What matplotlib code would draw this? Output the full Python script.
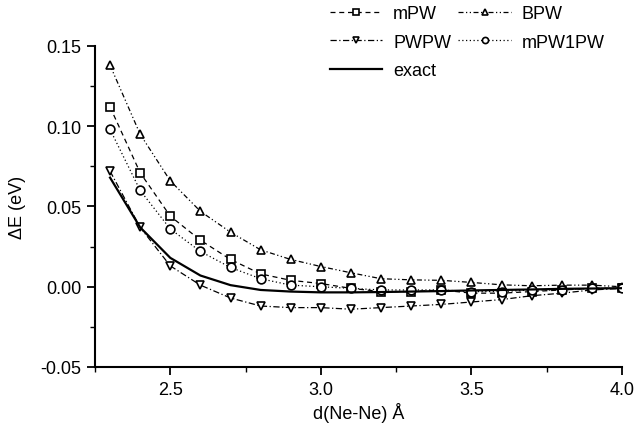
import matplotlib
matplotlib.use("Agg")
import matplotlib.pyplot as plt
from matplotlib.ticker import MultipleLocator, FormatStrFormatter

plt.rcParams['font.family'] = ['Liberation Sans', 'DejaVu Sans']
plt.rcParams['axes.unicode_minus'] = False

d = [2.3, 2.4, 2.5, 2.6, 2.7, 2.8, 2.9, 3.0, 3.1, 3.2, 3.3, 3.4, 3.5, 3.6, 3.7, 3.8, 3.9, 4.0]
mpw = [0.112, 0.071, 0.044, 0.029, 0.017, 0.008, 0.004, 0.002, -0.001, -0.003, -0.003,
       -0.002, -0.004, -0.004, -0.003, -0.002, -0.001, -0.001]
bpw = [0.138, 0.095, 0.066, 0.047, 0.034, 0.023, 0.017, 0.0126, 0.0087, 0.005, 0.0043,
       0.004, 0.0027, 0.0012, 0.0006, 0.0010, 0.0010, 0.0000]
pwpw = [0.072, 0.037, 0.013, 0.001, -0.007, -0.012, -0.013, -0.013, -0.014, -0.013, -0.012,
        -0.011, -0.0095, -0.008, -0.0056, -0.004, -0.002, -0.001]
mpw1pw = [0.098, 0.060, 0.036, 0.022, 0.012, 0.005, 0.001, 0.000, -0.001, -0.002, -0.002,
          -0.002, -0.003, -0.003, -0.002, -0.002, -0.001, -0.001]
exact = [0.068, 0.037, 0.018, 0.007, 0.001, -0.002, -0.003, -0.0035, -0.0035, -0.0033, -0.003,
         -0.0027, -0.0023, -0.002, -0.0017, -0.0013, -0.0011, -0.0009]

fig = plt.figure(figsize=(6.37, 4.31), dpi=100)
ax = fig.add_axes([95/637, (431-368)/431, (622-95)/637, (368-47)/431])

mk = dict(color='black', lw=0.9, markersize=6.3, markerfacecolor='white', markeredgewidth=1.2)
h_mpw, = ax.plot(d, mpw, linestyle=(0, (4, 3)), marker='s', label='mPW', **mk)
h_bpw, = ax.plot(d, bpw, linestyle=(0, (4, 2, 1, 2, 1, 2)), marker='^', label='BPW', **mk)
h_pwpw, = ax.plot(d, pwpw, linestyle=(0, (5, 2, 1, 2)), marker='v', label='PWPW', **mk)
h_m1, = ax.plot(d, mpw1pw, linestyle=(0, (1, 2)), marker='o', label='mPW1PW', **mk)
h_ex, = ax.plot(d, exact, color='black', lw=1.6, linestyle='-', label='exact')

ax.set_xlim(2.25, 4.0)
ax.set_ylim(-0.05, 0.15)
ax.xaxis.set_major_locator(MultipleLocator(0.5))
ax.xaxis.set_minor_locator(MultipleLocator(0.25))
ax.yaxis.set_major_locator(MultipleLocator(0.05))
ax.yaxis.set_minor_locator(MultipleLocator(0.025))
ax.yaxis.set_major_formatter(FormatStrFormatter('%.2f'))
ax.xaxis.set_major_formatter(FormatStrFormatter('%.1f'))

for s in ['top', 'right']:
    ax.spines[s].set_visible(False)
for s in ['left', 'bottom']:
    ax.spines[s].set_linewidth(1.5)
ax.tick_params(which='major', direction='out', length=6, width=1.3, labelsize=13, pad=4)
ax.tick_params(which='minor', direction='out', length=3.5, width=1.0)

ax.set_xlabel('d(Ne-Ne) Å', fontsize=13, labelpad=3)
ax.set_ylabel('ΔE (eV)', fontsize=13, labelpad=10)

fig.legend(handles=[h_mpw, h_pwpw, h_ex, h_bpw, h_m1], ncol=2, frameon=False,
           loc='upper left', bbox_to_anchor=(330/637, (431-6)/431), fontsize=13,
           handlelength=2.9, handletextpad=0.6, columnspacing=0.4, labelspacing=0.65,
           borderaxespad=0.0, borderpad=0.0, markerscale=0.7)

fig.savefig('out.png', dpi=100)
